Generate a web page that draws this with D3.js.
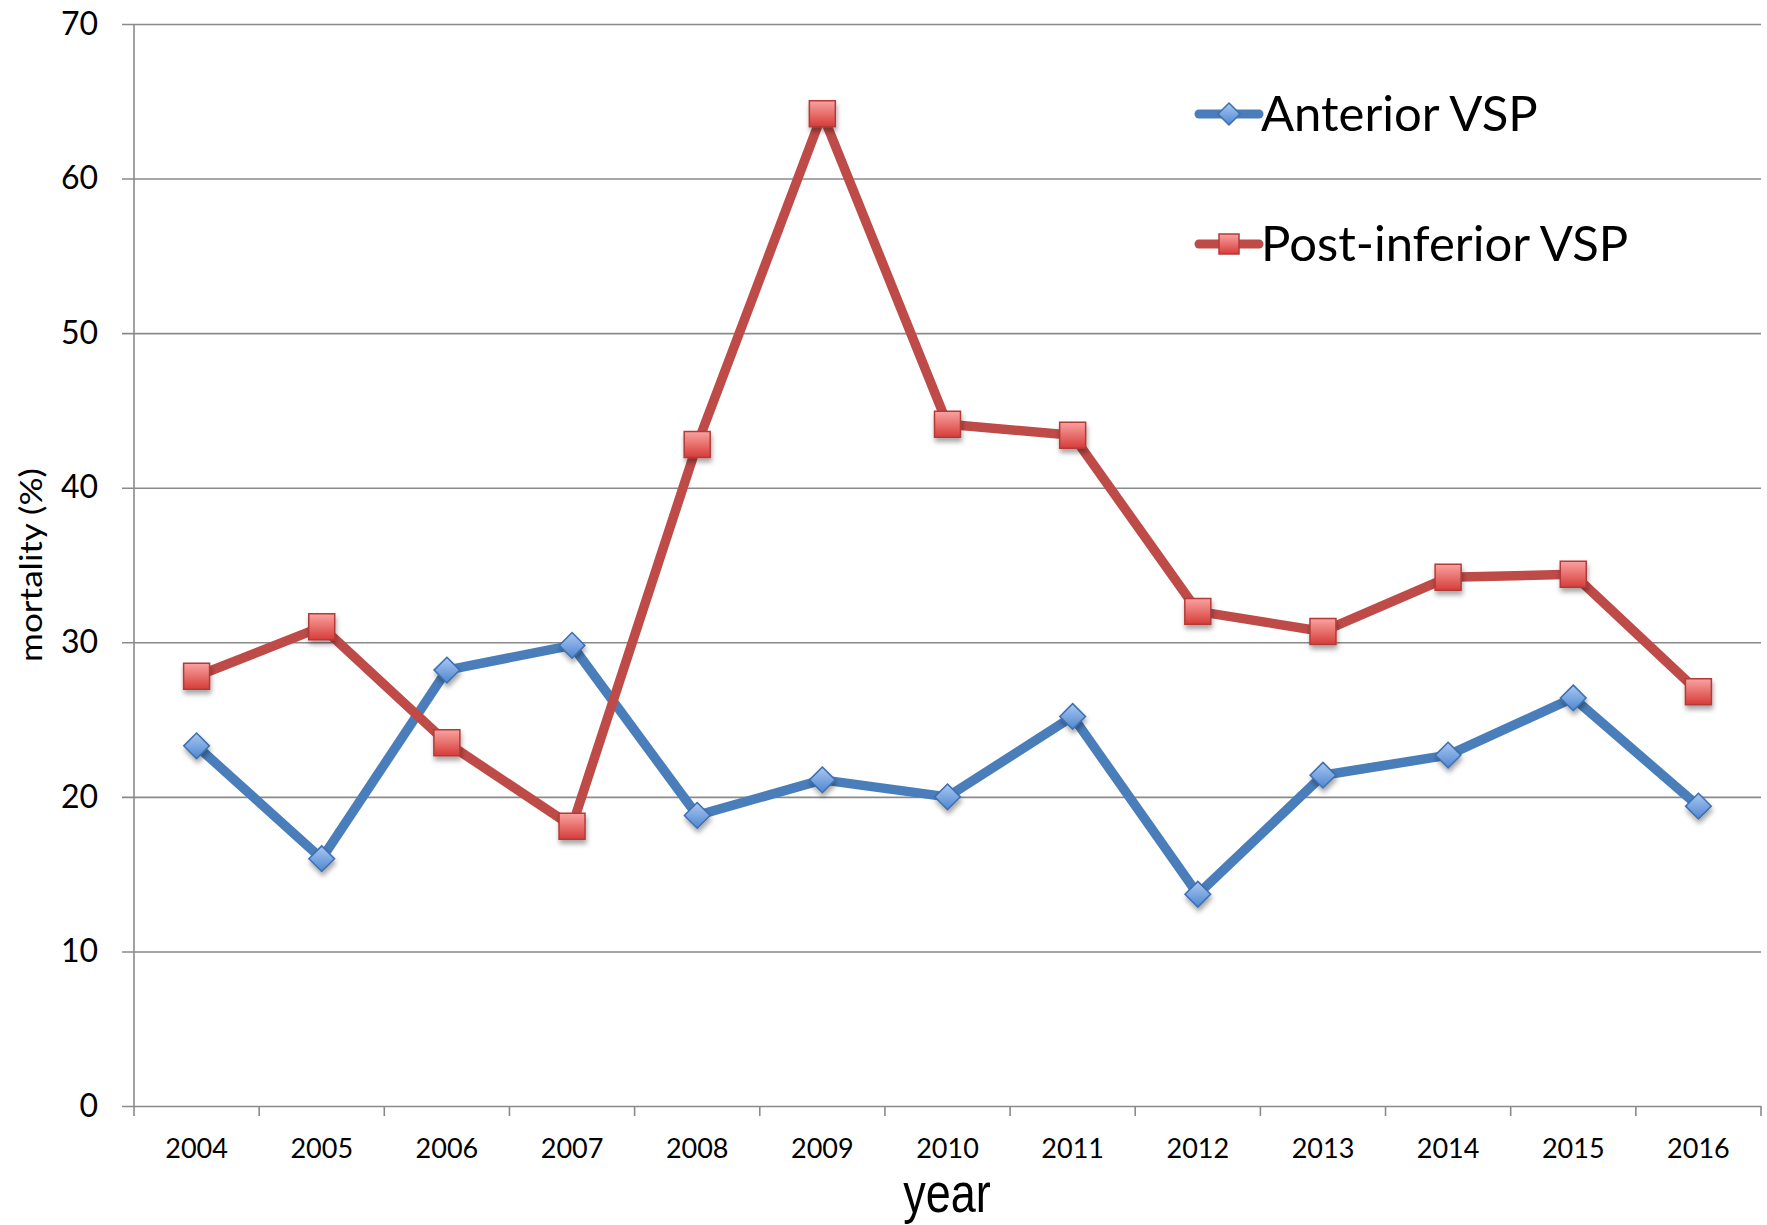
<!DOCTYPE html>
<html lang="en">
<head>
  <meta charset="UTF-8">
  <title>Mortality by year: anterior vs post-inferior VSP</title>
  <script src="https://d3js.org/d3.v7.min.js"></script>
  <style>
    body { margin: 0; background: #fff; }
    svg { display: block; font-family: Lato, "Noto Sans", sans-serif; }
    .grid line { stroke: #8a8a8a; stroke-width: 1.6px; }
    .tick-lbl { fill: #000; }
  </style>
</head>
<body>
  <div id="chart"></div>

  <script>
    // data
    const years = ["2004", "2005", "2006", "2007", "2008", "2009", "2010",
                   "2011", "2012", "2013", "2014", "2015", "2016"];
    const anterior = [23.3, 16.0, 28.2, 29.8, 18.8, 21.1, 20.0, 25.2, 13.7, 21.4, 22.7, 26.4, 19.4];
    const postInferior = [27.8, 31.0, 23.5, 18.1, 42.8, 64.2, 44.1, 43.4, 32.0, 30.7, 34.2, 34.4, 26.8];
    const yTicks = [0, 10, 20, 30, 40, 50, 60, 70];
    const seriesNames = ["Anterior VSP", "Post-inferior VSP"];

    const width = 1767, height = 1225;
    const margin = {top: 24, right: 6, bottom: 119, left: 134};

    const svg = d3.select("#chart").append("svg")
      .attr("width", width)
      .attr("height", height);

    // gradients + shadow for the markers (office style)
    const defs = svg.append("defs");
    const gBlue = defs.append("linearGradient").attr("id", "gBlue")
      .attr("x1", 0).attr("y1", 0).attr("x2", 0).attr("y2", 1);
    gBlue.append("stop").attr("offset", "0%").attr("stop-color", "#a9c8f2");
    gBlue.append("stop").attr("offset", "100%").attr("stop-color", "#4f86d0");
    const gRed = defs.append("linearGradient").attr("id", "gRed")
      .attr("x1", 0).attr("y1", 0).attr("x2", 0).attr("y2", 1);
    gRed.append("stop").attr("offset", "0%").attr("stop-color", "#f9a3a1");
    gRed.append("stop").attr("offset", "100%").attr("stop-color", "#d63c39");
    const shadow = defs.append("filter").attr("id", "shadow")
      .attr("x", "-50%").attr("y", "-50%").attr("width", "200%").attr("height", "200%");
    shadow.append("feDropShadow")
      .attr("dx", 1).attr("dy", 4).attr("stdDeviation", 2.5)
      .attr("flood-color", "#000").attr("flood-opacity", 0.35);

    const x = d3.scaleBand()
      .domain(years)
      .range([margin.left, width - margin.right])
      .padding(0);

    const y = d3.scaleLinear()
      .domain([0, 70])
      .range([height - margin.bottom, margin.top]);

    const cx = d => x(d) + x.bandwidth() / 2;

    // horizontal gridlines (they also stick out left of the axis as ticks)
    svg.append("g")
      .attr("class", "grid")
      .attr("transform", `translate(${margin.left - 12},0)`)
      .call(d3.axisLeft(y).tickValues(yTicks).tickSize(-(width - margin.right - margin.left + 12)).tickFormat(""))
      .call(g => g.select(".domain").remove());

    // y tick labels
    svg.append("g")
      .attr("transform", `translate(${margin.left},0)`)
      .call(d3.axisLeft(y).tickValues(yTicks).tickSize(0).tickPadding(36))
      .call(g => g.select(".domain").remove())
      .call(g => g.selectAll("text").attr("class", "tick-lbl")
        .style("font-size", "32px").style("font-family", "Lato, sans-serif"));

    // left axis line
    svg.append("line")
      .attr("x1", margin.left).attr("x2", margin.left)
      .attr("y1", y(70)).attr("y2", y(0) + 10)
      .attr("stroke", "#8a8a8a").attr("stroke-width", 1.6);

    // x ticks sit on the category boundaries
    const bounds = years.map(d => x(d)).concat([x(years[years.length - 1]) + x.bandwidth()]);
    svg.append("g").selectAll("line")
      .data(bounds.slice(1))
      .join("line")
      .attr("x1", d => d).attr("x2", d => d)
      .attr("y1", y(0)).attr("y2", y(0) + 10)
      .attr("stroke", "#8a8a8a").attr("stroke-width", 1.6);

    // x labels
    svg.append("g")
      .attr("transform", `translate(0,${y(0)})`)
      .call(d3.axisBottom(x).tickSize(0).tickPadding(33))
      .call(g => g.select(".domain").remove())
      .call(g => g.selectAll("text").attr("class", "tick-lbl")
        .style("font-size", "27px").style("font-family", "Lato, sans-serif"));

    // axis titles
    svg.append("text")
      .attr("transform", `translate(947,1212) scale(1,1.24)`)
      .attr("text-anchor", "middle")
      .style("font-family", "'Liberation Sans', Arial, sans-serif")
      .style("font-size", "45px")
      .text("year");

    svg.append("text")
      .attr("transform", "translate(42,565) rotate(-90) scale(1.17,1)")
      .attr("text-anchor", "middle")
      .style("font-size", "30px")
      .text("mortality (%)");

    const series = [
      {name: seriesNames[0], values: anterior, color: "#4a7ebb", fill: "url(#gBlue)", stroke: "#3d6fae",
       shape: d3.symbolDiamond2, size: 420, legendSize: 310},
      {name: seriesNames[1], values: postInferior, color: "#be4b48", fill: "url(#gRed)", stroke: "#b23b38",
       shape: d3.symbolSquare2, size: 860, legendSize: 510}
    ];

    const line = d3.line()
      .x((d, i) => cx(years[i]))
      .y(d => y(d));

    series.forEach(s => {
      svg.append("path")
        .datum(s.values)
        .attr("fill", "none")
        .attr("stroke", s.color)
        .attr("stroke-width", 9.5)
        .attr("stroke-linejoin", "round")
        .attr("d", line);
    });

    series.forEach(s => {
      const sym = d3.symbol().type(s.shape).size(s.size);
      svg.append("g").selectAll("path")
        .data(s.values)
        .join("path")
        .attr("transform", (d, i) => `translate(${cx(years[i])},${y(d)})`)
        .attr("d", sym)
        .attr("fill", s.fill)
        .attr("stroke", s.stroke)
        .attr("stroke-width", 1.5)
        .attr("filter", "url(#shadow)");
    });

    // legend
    const legend = svg.append("g").attr("transform", "translate(1199,114)");
    series.forEach((s, i) => {
      const row = legend.append("g").attr("transform", `translate(0,${i * 130})`);
      row.append("line")
        .attr("x1", 0).attr("x2", 60)
        .attr("stroke", s.color).attr("stroke-width", 9)
        .attr("stroke-linecap", "round");
      row.append("path")
        .attr("transform", "translate(30,0)")
        .attr("d", d3.symbol().type(s.shape).size(s.legendSize))
        .attr("fill", s.fill)
        .attr("stroke", s.stroke)
        .attr("stroke-width", 1.5);
      row.append("text")
        .attr("x", 62)
        .attr("y", 17)
        .style("font-size", "49px")
        .text(s.name);
    });
  </script>
</body>
</html>
